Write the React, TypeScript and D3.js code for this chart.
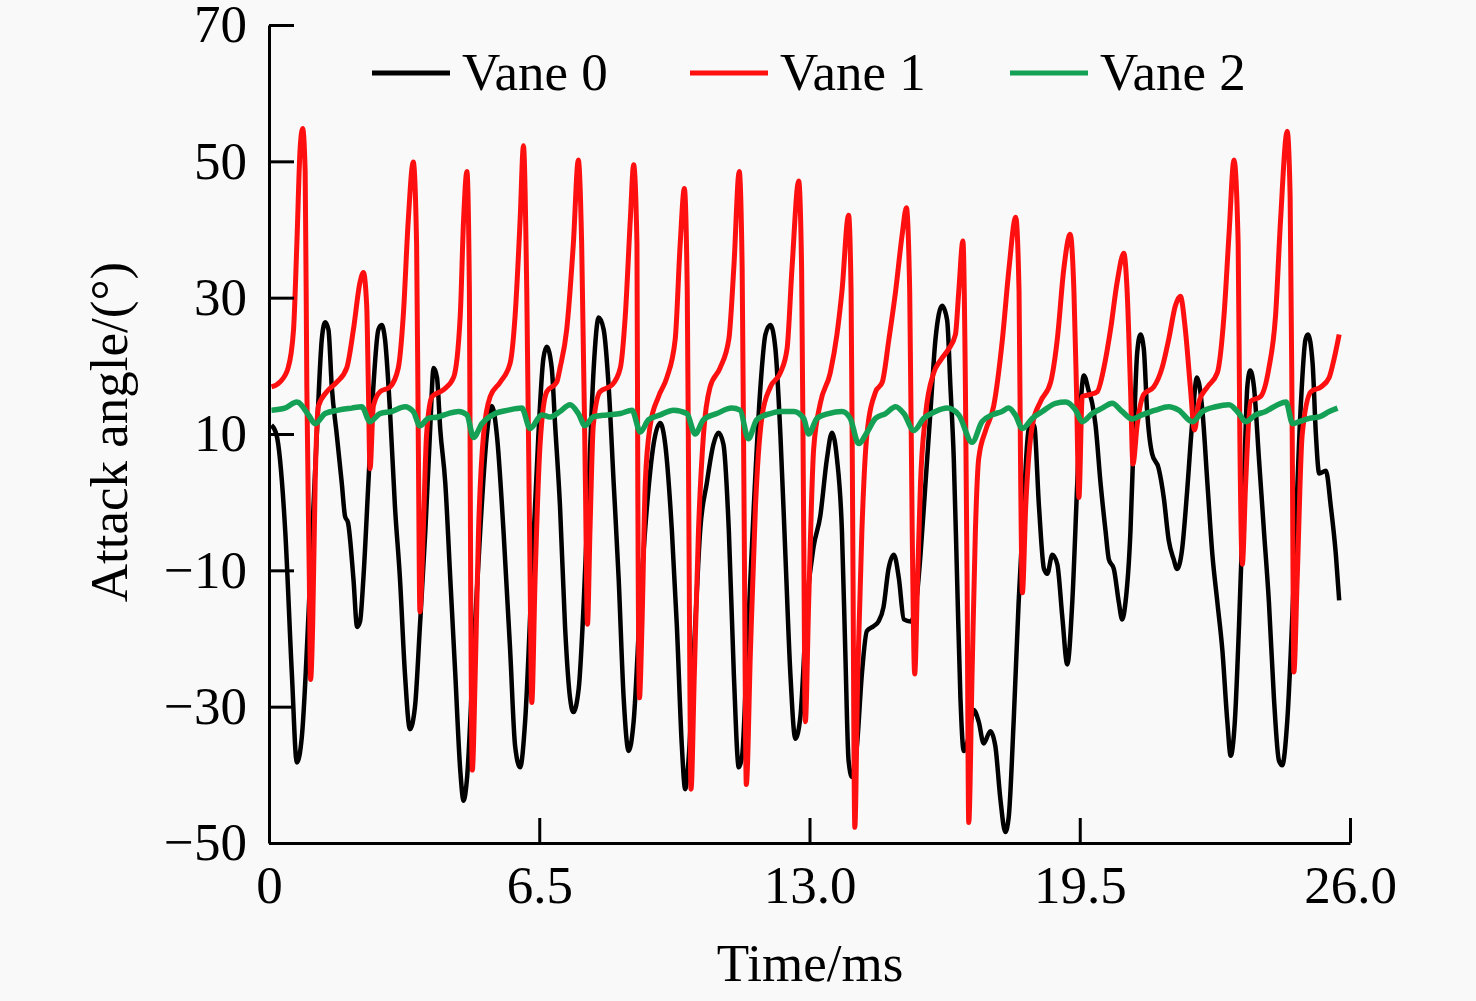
import { useEffect, useRef } from 'react'
import * as d3 from 'd3'

type Pt = [number, number]

const xTicks = [0, 6.5, 13, 19.5, 26]
const yTicks = [-50, -30, -10, 10, 30, 50, 70]

// Vane 0 attack angle, [time ms, angle deg]
const vane0: Pt[] = [
  [0.06, 11.3], [0.18, 9.9], [0.39, -4.2], [0.55, -25.2], [0.67, -38.2], [0.79, -34.4], [0.99, -11.2],
  [1.15, 9.9], [1.27, 23.9], [1.35, 26.4], [1.43, 25.3], [1.51, 16.9], [1.63, 9.9], [1.75, 2.8],
  [1.83, -2.1], [1.9, -3.0], [2.03, -11.2], [2.12, -18.3], [2.19, -17.5], [2.27, -11.2], [2.39, 2.8],
  [2.51, 16.9], [2.63, 25.3], [2.71, 26.0], [2.79, 23.9], [2.91, 13.4], [3.03, -0.7], [3.15, -11.2],
  [3.27, -25.2], [3.39, -33.3], [3.51, -30.1], [3.63, -18.2], [3.76, -4.2], [3.87, 9.9], [3.96, 19.7],
  [4.04, 18.3], [4.12, 10.6], [4.24, 2.8], [4.36, -11.2], [4.48, -25.2], [4.6, -39.3], [4.68, -43.8],
  [4.76, -40.7], [4.92, -21.7], [5.08, -4.2], [5.24, 9.9], [5.36, 14.1], [5.48, 9.9], [5.64, -4.2],
  [5.8, -21.7], [5.92, -35.8], [6.04, -38.9], [6.16, -32.2], [6.32, -11.2], [6.48, 9.9], [6.6, 21.1],
  [6.68, 22.8], [6.8, 19.7], [6.88, 11.5], [7.0, -0.7], [7.12, -18.2], [7.24, -28.7], [7.32, -30.8],
  [7.45, -27.3], [7.57, -14.7], [7.69, 2.8], [7.81, 19.7], [7.93, 27.1], [8.05, 25.3], [8.17, 16.9],
  [8.29, 2.8], [8.41, -11.2], [8.53, -28.7], [8.65, -36.5], [8.77, -32.2], [8.93, -14.7], [9.09, -0.7],
  [9.25, 8.5], [9.41, 11.6], [9.53, 8.5], [9.69, -4.2], [9.81, -18.2], [9.93, -35.8], [10.01, -42.1],
  [10.09, -37.9], [10.25, -18.2], [10.37, -4.2], [10.53, 2.8], [10.69, 8.5], [10.81, 10.2], [10.93, 8.5],
  [11.06, -4.2], [11.18, -25.2], [11.3, -38.9], [11.38, -37.2], [11.5, -21.7], [11.66, -0.7], [11.82, 16.9],
  [11.94, 24.6], [12.06, 26.0], [12.18, 22.5], [12.3, 9.9], [12.42, -7.7], [12.54, -25.2], [12.66, -34.7],
  [12.78, -31.5], [12.94, -14.7], [13.1, -6.5], [13.26, -2.0], [13.42, 6.4], [13.54, 10.2], [13.66, 6.4],
  [13.78, -4.2], [13.86, -21.7], [13.94, -37.9], [14.02, -40.3], [14.14, -35.8], [14.26, -25.2],
  [14.38, -18.9], [14.54, -18.2], [14.66, -17.5], [14.78, -15.4], [14.9, -9.8], [15.03, -7.7],
  [15.15, -11.2], [15.27, -17.2], [15.43, -17.5], [15.55, -15.4], [15.67, -7.7], [15.79, 2.8],
  [15.91, 13.4], [16.03, 23.9], [16.19, 28.8], [16.31, 26.7], [16.39, 16.9], [16.47, 6.4], [16.55, -11.2],
  [16.63, -28.7], [16.71, -36.5], [16.83, -34.4], [16.95, -30.5], [17.07, -32.2], [17.19, -35.4],
  [17.35, -33.6], [17.47, -35.8], [17.59, -43.5], [17.71, -48.4], [17.79, -46.3], [17.91, -32.2],
  [18.03, -14.7], [18.15, -0.7], [18.27, 10.6], [18.4, 11.3], [18.52, -0.7], [18.64, -9.8], [18.72, -10.5],
  [18.84, -7.7], [18.96, -9.1], [19.08, -16.8], [19.2, -23.8], [19.32, -14.7], [19.44, 2.8], [19.52, 14.1],
  [19.6, 18.6], [19.72, 16.2], [19.8, 14.5], [19.88, 11.3], [20.0, 2.8], [20.12, -4.2], [20.2, -8.4],
  [20.32, -9.8], [20.44, -14.7], [20.52, -17.2], [20.6, -14.7], [20.72, -4.2], [20.8, 9.9], [20.88, 21.8],
  [20.96, 24.6], [21.04, 22.5], [21.12, 13.4], [21.24, 7.1], [21.4, 4.9], [21.52, 0.7], [21.64, -5.6],
  [21.76, -8.4], [21.84, -9.8], [21.96, -7.0], [22.08, 1.4], [22.2, 11.3], [22.32, 18.3], [22.45, 13.4],
  [22.57, 2.8], [22.69, -7.7], [22.81, -14.7], [22.93, -21.7], [23.05, -32.2], [23.13, -37.2],
  [23.23, -32.2], [23.33, -18.2], [23.45, 2.8], [23.53, 16.9], [23.6, 19.3], [23.69, 16.9], [23.81, 6.4],
  [23.93, -4.2], [24.05, -14.7], [24.17, -28.7], [24.29, -37.9], [24.37, -38.6], [24.49, -32.2],
  [24.65, -11.2], [24.81, 13.4], [24.93, 23.9], [24.99, 24.6], [25.1, 20.4], [25.18, 9.9], [25.26, 4.2],
  [25.42, 4.6], [25.54, -0.7], [25.66, -7.7], [25.74, -14.4],
]

// Vane 1 attack angle
const vane1: Pt[] = [
  [0.06, 16.9], [0.26, 17.6], [0.46, 19.7], [0.59, 25.3], [0.67, 37.9], [0.75, 52.0], [0.81, 54.8],
  [0.87, 48.5], [0.91, 16.9], [0.97, -11.2], [1.0, -26.0], [1.05, -18.2], [1.11, 2.8], [1.19, 14.1],
  [1.39, 16.2], [1.63, 17.6], [1.87, 19.7], [2.03, 25.3], [2.19, 32.3], [2.27, 33.7], [2.35, 28.8],
  [2.39, 16.9], [2.43, 4.9], [2.51, 14.1], [2.67, 16.2], [2.91, 16.9], [3.11, 19.7], [3.23, 27.4],
  [3.35, 41.4], [3.47, 49.9], [3.55, 37.9], [3.59, 9.9], [3.63, -16.1], [3.71, -4.2], [3.79, 9.9],
  [3.92, 15.5], [4.2, 16.5], [4.44, 18.3], [4.6, 27.4], [4.68, 41.4], [4.76, 48.5], [4.82, 30.9],
  [4.85, -11.2], [4.89, -39.3], [4.96, -25.2], [5.04, -4.2], [5.16, 9.9], [5.32, 15.5], [5.56, 17.6],
  [5.8, 20.4], [5.92, 27.4], [6.04, 41.4], [6.12, 52.3], [6.2, 30.9], [6.28, -11.2], [6.32, -29.4],
  [6.4, -11.2], [6.52, 8.5], [6.68, 16.2], [6.92, 17.6], [7.0, 19.7], [7.16, 25.3], [7.32, 37.9],
  [7.44, 50.2], [7.52, 37.9], [7.61, 2.8], [7.66, -17.9], [7.72, -4.2], [7.8, 11.3], [7.96, 16.2],
  [8.25, 17.2], [8.45, 19.7], [8.57, 27.4], [8.69, 41.4], [8.77, 49.5], [8.85, 37.9], [8.87, 2.8],
  [8.91, -28.7], [8.97, -18.2], [9.05, 2.8], [9.17, 11.3], [9.37, 15.5], [9.57, 18.3], [9.77, 23.9],
  [9.89, 37.9], [9.99, 46.0], [10.06, 30.9], [10.1, -4.2], [10.15, -42.1], [10.23, -25.2], [10.33, -4.2],
  [10.45, 9.9], [10.61, 16.9], [10.85, 19.7], [11.06, 23.9], [11.18, 34.4], [11.31, 48.5], [11.38, 34.4],
  [11.43, -4.2], [11.48, -41.4], [11.58, -21.7], [11.7, -0.7], [11.86, 12.7], [12.06, 16.9], [12.3, 19.0],
  [12.46, 22.5], [12.58, 34.4], [12.74, 47.1], [12.81, 34.4], [12.86, -4.2], [12.9, -32.2], [12.98, -14.7],
  [13.1, 7.8], [13.26, 14.5], [13.5, 19.0], [13.66, 24.6], [13.78, 30.9], [13.94, 42.1], [14.0, 30.9],
  [14.04, -4.2], [14.09, -47.7], [14.16, -25.2], [14.26, -4.2], [14.38, 9.9], [14.59, 16.2], [14.75, 17.6],
  [14.91, 23.9], [15.07, 30.9], [15.23, 39.3], [15.33, 43.2], [15.41, 30.9], [15.47, -4.2], [15.53, -25.2],
  [15.6, -11.2], [15.67, 2.8], [15.79, 12.7], [15.99, 19.0], [16.15, 20.8], [16.35, 22.5], [16.51, 24.6],
  [16.59, 30.9], [16.69, 38.3], [16.75, 16.9], [16.79, -11.2], [16.83, -47.0], [16.91, -25.2],
  [16.99, -4.2], [17.07, 6.4], [17.24, 10.6], [17.43, 14.1], [17.64, 23.9], [17.8, 34.4], [17.96, 41.8],
  [18.04, 30.9], [18.08, 2.8], [18.12, -13.3], [18.2, -0.7], [18.36, 11.3], [18.56, 14.8], [18.8, 17.6],
  [18.96, 23.9], [19.12, 34.4], [19.27, 39.3], [19.36, 30.9], [19.42, 16.9], [19.48, 0.7], [19.56, 15.5],
  [19.76, 15.8], [19.92, 16.2], [20.08, 19.7], [20.24, 25.3], [20.4, 32.3], [20.56, 36.5], [20.64, 30.9],
  [20.72, 16.9], [20.78, 5.6], [20.88, 11.3], [21.04, 15.8], [21.28, 16.9], [21.48, 19.7], [21.64, 23.9],
  [21.8, 28.8], [21.92, 30.2], [22.04, 25.3], [22.16, 16.9], [22.26, 10.6], [22.37, 14.8], [22.57, 16.9],
  [22.81, 19.0], [22.97, 27.4], [23.09, 39.3], [23.21, 50.2], [23.31, 37.9], [23.35, 9.9], [23.41, -9.1],
  [23.49, 2.8], [23.61, 14.8], [23.85, 15.5], [24.05, 19.7], [24.21, 27.4], [24.33, 41.4], [24.49, 54.4],
  [24.56, 44.9], [24.61, 9.9], [24.65, -24.9], [24.73, -11.2], [24.85, 9.9], [25.06, 16.2], [25.3, 16.9],
  [25.5, 18.3], [25.62, 21.1], [25.74, 24.6],
]

// Vane 2 attack angle
const vane2: Pt[] = [
  [0.06, 13.5], [0.38, 13.8], [0.67, 14.7], [0.95, 12.8], [1.11, 11.5], [1.35, 13.0], [1.67, 13.5],
  [1.99, 13.8], [2.23, 14.0], [2.43, 11.8], [2.67, 13.0], [2.95, 13.3], [3.27, 14.0], [3.47, 13.3],
  [3.63, 11.2], [3.83, 12.3], [4.07, 12.5], [4.31, 13.0], [4.56, 13.3], [4.76, 12.8], [4.92, 9.5],
  [5.12, 11.5], [5.44, 13.0], [5.76, 13.5], [6.08, 13.8], [6.28, 10.8], [6.56, 12.8], [6.76, 12.5],
  [7.0, 13.3], [7.24, 14.3], [7.44, 13.0], [7.6, 11.2], [7.8, 12.5], [8.13, 12.8], [8.45, 13.0],
  [8.73, 13.5], [8.93, 10.3], [9.13, 12.1], [9.41, 12.8], [9.73, 13.5], [10.05, 13.0], [10.25, 10.0],
  [10.45, 12.1], [10.77, 13.0], [11.13, 13.8], [11.33, 13.5], [11.53, 9.3], [11.73, 12.1], [12.06, 13.0],
  [12.3, 13.3], [12.62, 13.3], [12.86, 12.3], [12.98, 10.0], [13.18, 12.3], [13.46, 13.0], [13.78, 13.3],
  [13.98, 12.3], [14.18, 8.6], [14.39, 10.3], [14.59, 12.3], [14.83, 13.0], [15.07, 14.0], [15.27, 13.0],
  [15.51, 10.5], [15.75, 12.3], [16.03, 13.3], [16.31, 13.8], [16.59, 12.8], [16.91, 8.8], [17.15, 11.8],
  [17.39, 12.8], [17.63, 13.3], [17.79, 13.8], [17.95, 12.8], [18.12, 10.8], [18.36, 12.3], [18.6, 13.3],
  [18.92, 14.5], [19.16, 14.7], [19.4, 13.5], [19.56, 11.8], [19.8, 13.0], [20.04, 13.8], [20.28, 14.5],
  [20.52, 13.3], [20.76, 12.2], [21.0, 12.8], [21.32, 13.5], [21.64, 14.0], [21.88, 13.5], [22.21, 11.8],
  [22.45, 13.3], [22.77, 14.0], [23.09, 14.3], [23.33, 13.0], [23.49, 11.8], [23.73, 12.8], [23.97, 13.3],
  [24.26, 14.3], [24.46, 14.7], [24.62, 11.5], [24.78, 11.8], [25.02, 12.3], [25.26, 12.5], [25.5, 13.3],
  [25.7, 13.8],
]

const seriesNames = ['Vane 0', 'Vane 1', 'Vane 2']
const seriesColors = ['#000000', '#ff1010', '#14a055']
const seriesWidths = [4.5, 5, 5.5]

const FONT = '"Liberation Serif", "Times New Roman", Times, serif'

export default function App() {
  const svgRef = useRef<SVGSVGElement>(null)

  useEffect(() => {
    if (!svgRef.current) return
    const svg = d3.select(svgRef.current)
    svg.selectAll('*').remove()

    const left = 269
    const right = 1350
    const top = 25
    const bottom = 843

    const x = d3.scaleLinear().domain([0, 26]).range([left, right])
    const y = d3.scaleLinear().domain([-50, 70]).range([bottom, top])

    svg.append('rect').attr('width', 1476).attr('height', 1001).attr('fill', '#f9f9f9')

    // lines
    const line = d3
      .line<Pt>()
      .x((d) => x(d[0]))
      .y((d) => y(d[1]))
      .curve(d3.curveMonotoneX)

    ;[vane0, vane1, vane2].forEach((s, i) => {
      svg
        .append('path')
        .datum(s)
        .attr('d', line)
        .attr('fill', 'none')
        .attr('stroke', seriesColors[i])
        .attr('stroke-width', seriesWidths[i])
        .attr('stroke-linejoin', 'round')
    })

    // axes
    const yAxis = svg
      .append('g')
      .attr('transform', `translate(${left},0)`)
      .call(
        d3
          .axisLeft(y)
          .tickValues(yTicks)
          .tickSizeInner(-25)
          .tickSizeOuter(0)
          .tickPadding(22)
          .tickFormat((d) => d3.format('d')(d as number))
      )
    const xAxis = svg
      .append('g')
      .attr('transform', `translate(0,${bottom})`)
      .call(
        d3
          .axisBottom(x)
          .tickValues(xTicks)
          .tickSizeInner(-25)
          .tickSizeOuter(0)
          .tickPadding(22)
          .tickFormat((d) => ((d as number) === 0 ? '0' : (d as number).toFixed(1)))
      )
    ;[yAxis, xAxis].forEach((ax) => {
      ax.select('.domain').attr('stroke', '#000').attr('stroke-width', 3)
      ax.selectAll('.tick line').attr('stroke', '#000').attr('stroke-width', 3)
      ax.selectAll('.tick text')
        .attr('fill', '#000')
        .attr('font-family', FONT)
        .attr('font-size', 53)
    })

    // axis titles
    svg
      .append('text')
      .attr('x', 810)
      .attr('y', 981)
      .attr('text-anchor', 'middle')
      .attr('font-family', FONT)
      .attr('font-size', 53)
      .attr('fill', '#000')
      .text('Time/ms')

    svg
      .append('text')
      .attr('transform', 'translate(127,432) rotate(-90)')
      .attr('text-anchor', 'middle')
      .attr('font-family', FONT)
      .attr('font-size', 53)
      .attr('fill', '#000')
      .text('Attack angle/(°)')

    // legend
    const legendX = [372, 690, 1010]
    const legend = svg.append('g')
    seriesNames.forEach((name, i) => {
      legend
        .append('line')
        .attr('x1', legendX[i])
        .attr('x2', legendX[i] + 78)
        .attr('y1', 73)
        .attr('y2', 73)
        .attr('stroke', seriesColors[i])
        .attr('stroke-width', 5)
      legend
        .append('text')
        .attr('x', legendX[i] + 90)
        .attr('y', 90)
        .attr('font-family', FONT)
        .attr('font-size', 53)
        .attr('fill', '#000')
        .text(name)
    })
  }, [])

  return (
    <div style={{ position: 'absolute', left: 0, top: 0 }}>
      <svg ref={svgRef} width={1476} height={1001} viewBox="0 0 1476 1001" />
    </div>
  )
}
